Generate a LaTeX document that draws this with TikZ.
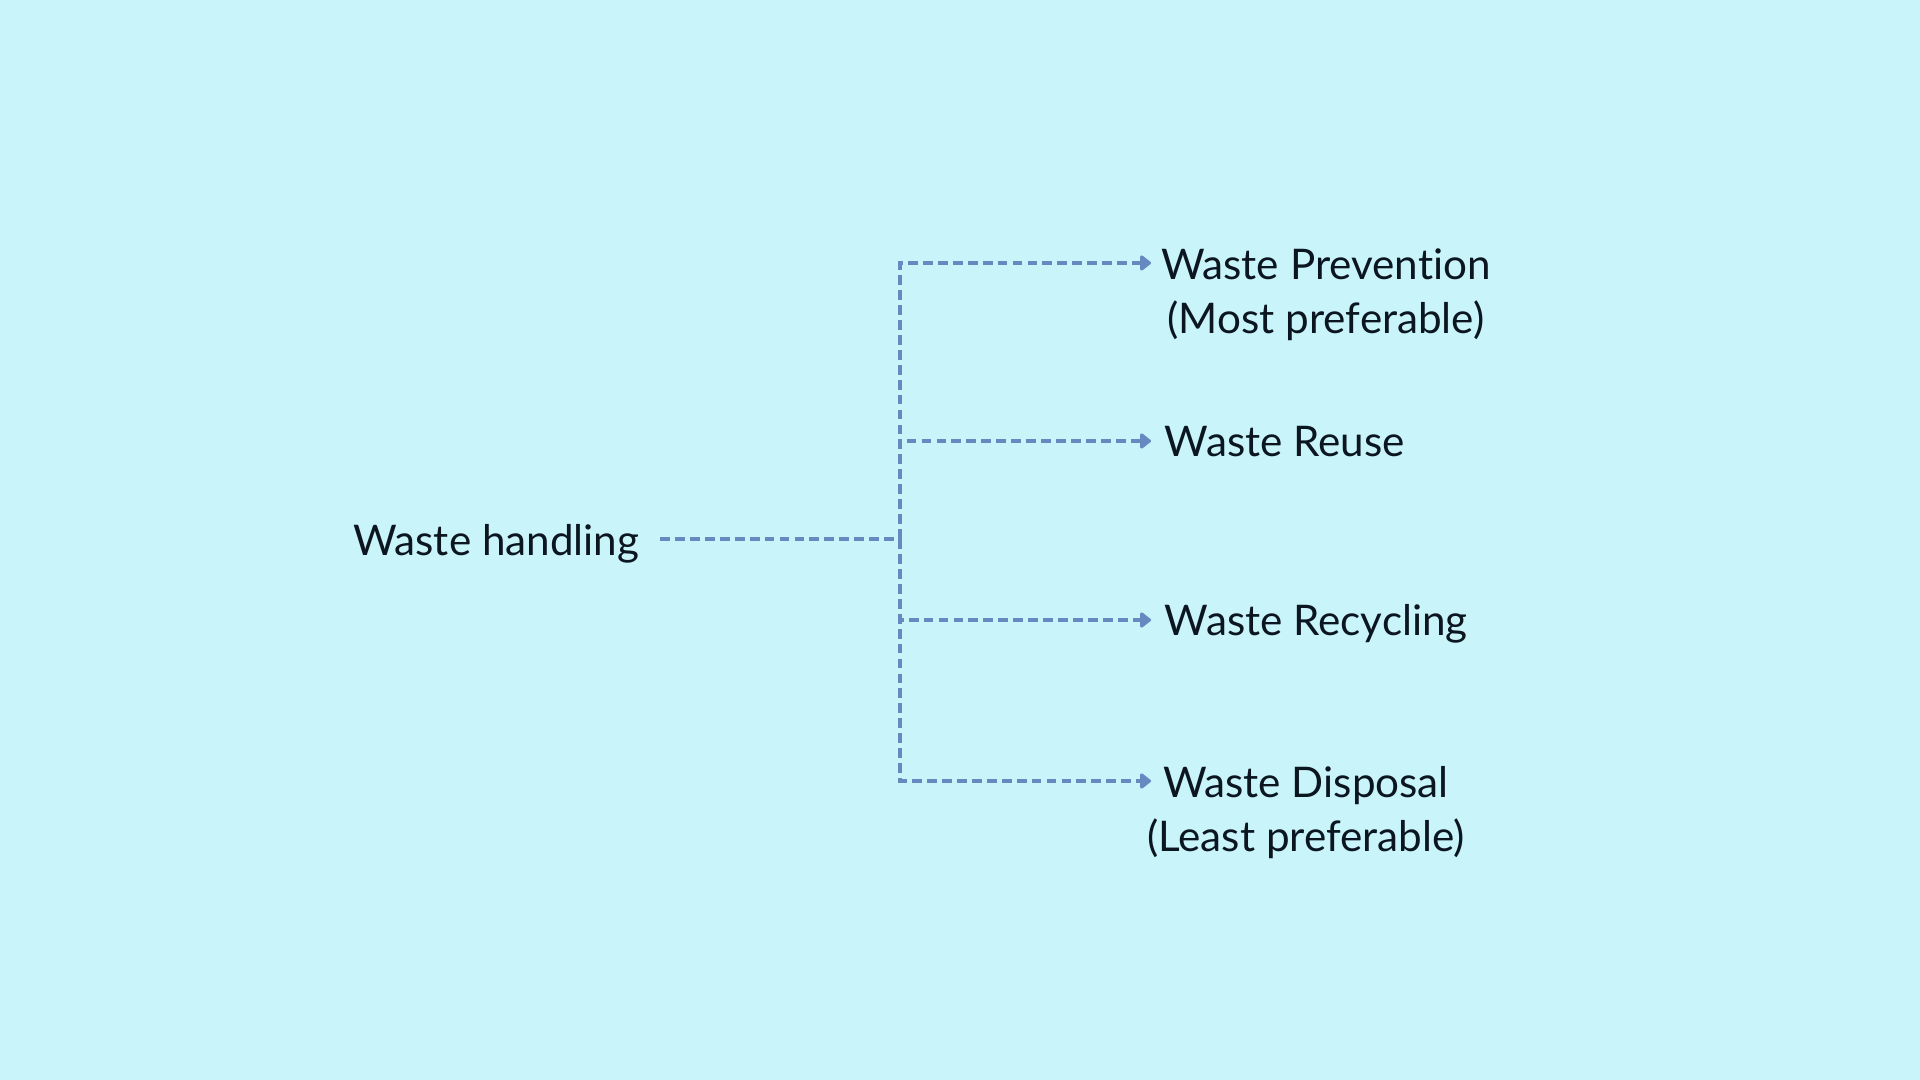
\documentclass[tikz,border=0pt]{standalone}
\usepackage{fontspec}
\setmainfont{Lato}[Ligatures=NoCommon]
\usetikzlibrary{arrows.meta}
\definecolor{bgcyan}{RGB}{200,244,250}
\definecolor{linkblue}{RGB}{102,138,192}
\definecolor{inkdark}{RGB}{12,22,32}

\begin{document}
\begin{tikzpicture}[x=0.01cm, y=-0.01cm, font=\fontsize{12}{15.6}\selectfont,
  every node/.style={text=inkdark, inner sep=0pt},
  link/.style={draw=linkblue, line width=1.35pt, dash pattern=on 2.8pt off 1.45pt},
  linkarrow/.style={link, -{Triangle[length=3.4pt, width=5pt, round]}}]
  \fill[bgcyan] (0,0) rectangle (1920,1080);
  \node[anchor=base east, inner xsep=0.2cm] (handling) at (660,556) {Waste handling};
  \coordinate (hub) at (900,539);
  \node[anchor=base, align=center] (prevention) at (1326,334) {Waste Prevention\\(Most preferable)};
  \node[anchor=base west] (reuse) at (1164,457) {Waste Reuse};
  \node[anchor=base west] (recycling) at (1164,636) {Waste Recycling};
  \node[anchor=base, align=center] (disposal) at (1306,852) {Waste Disposal\\(Least preferable)};
  \coordinate (toprevention) at (1151,263);
  \coordinate (toreuse) at (1151,441);
  \coordinate (torecycling) at (1151,620);
  \coordinate (todisposal) at (1151,781);
  \draw[link] (handling.east |- hub) -- (hub);
  \draw[linkarrow] (hub) |- (toprevention);
  \draw[linkarrow] (hub) |- (toreuse);
  \draw[linkarrow] (hub) |- (torecycling);
  \draw[linkarrow] (hub) |- (todisposal);
\end{tikzpicture}
\end{document}
